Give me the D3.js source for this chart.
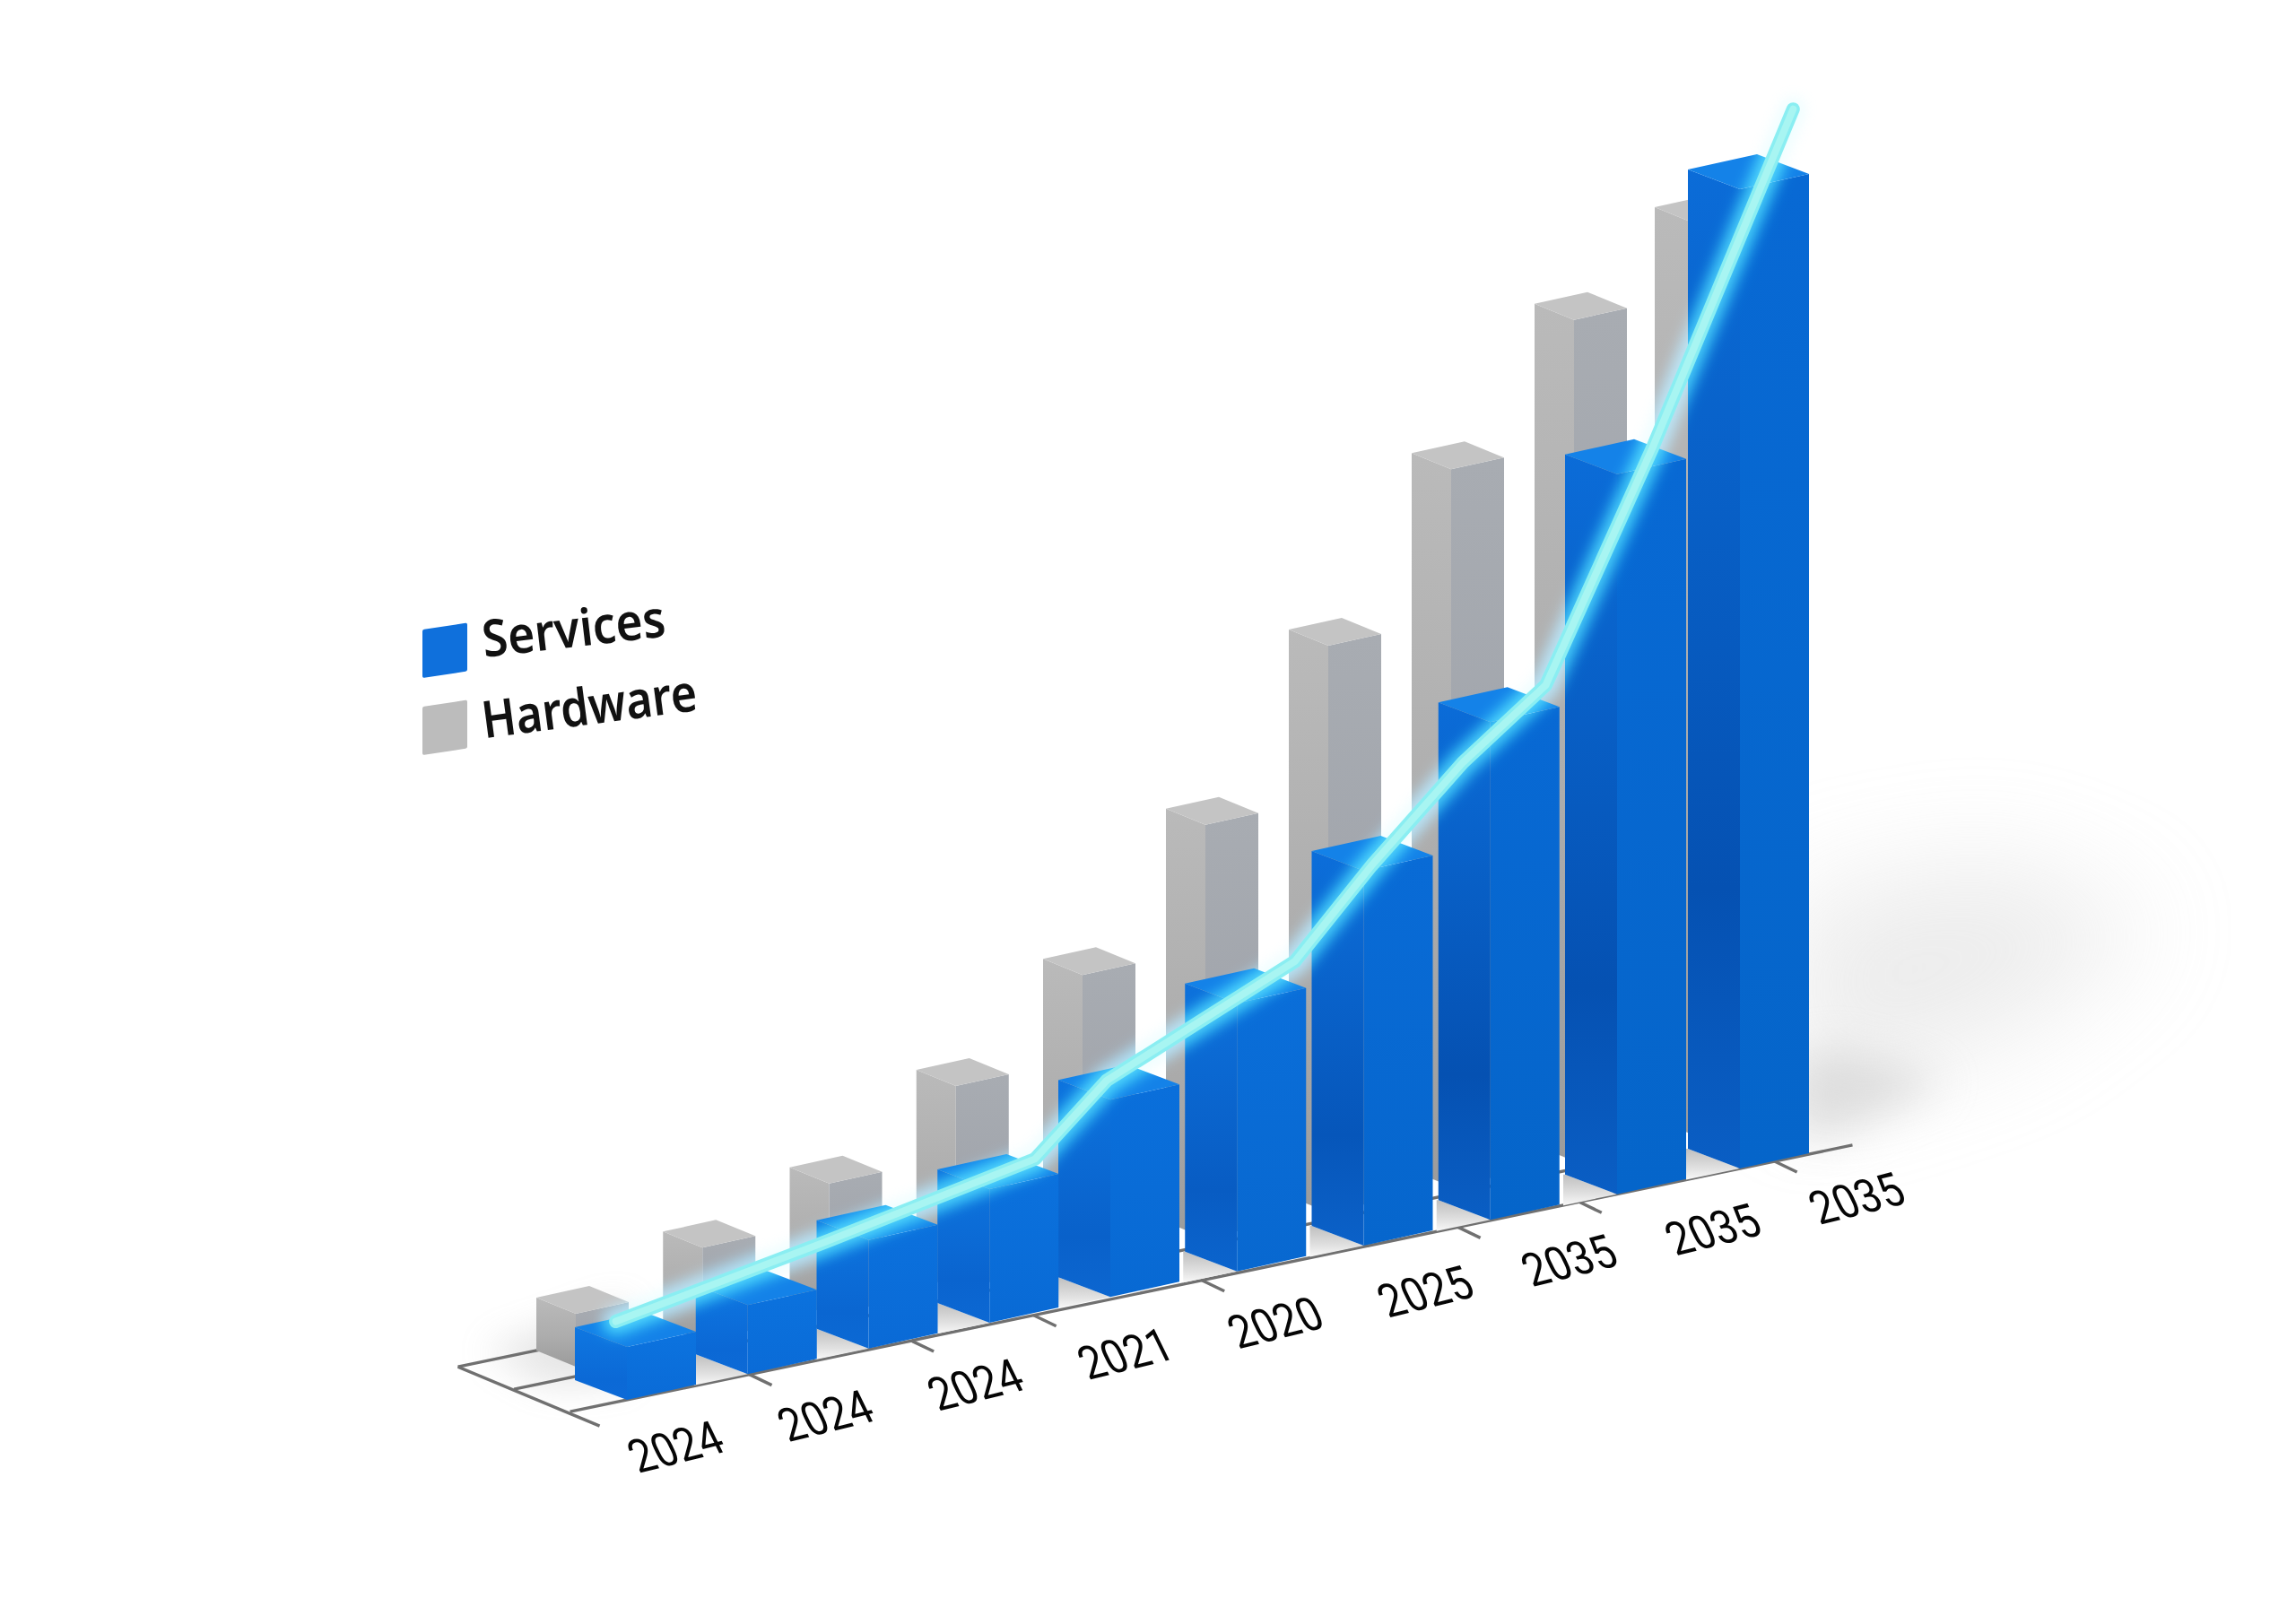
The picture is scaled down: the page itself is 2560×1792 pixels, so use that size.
<!DOCTYPE html>
<html><head><meta charset="utf-8">
<script src="https://cdn.jsdelivr.net/npm/d3@7"></script>
<style>html,body{margin:0;padding:0;background:#fff}svg{display:block}</style>
</head><body><svg id="c" width="2560" height="1792" viewBox="0 0 2560 1792"></svg>
<script>
// Data (in chart units)
const categories = [0,1,2,3,4,5,6,7,8,9];
const services = [5.9,7.7,12.1,14.9,22,29.9,41.8,55.5,80.3,109.2];
const hardware = [5.9,10.4,14.7,22.7,32.2,46.1,63.2,80.0,93.8,101.7];
const lineAt = [-0.09,1.60,3.30,3.88,5.40,6.02,6.76,7.43,8.29,9.43];
const lineValues = [9.0,13.0,17.4,24.5,33.4,42.3,51.7,58.4,82.3,116.9];
const tickLabels = ["2024","2024","2024","2021","2020","2025","2035","2035","2035"];
const tickAt = [0.99,2.30,3.29,4.65,6.72,7.70,9.28];
const legendNames = ["Services","Hardware"];
const gridDepth = [0,0.5,1];

const svg = d3.select("#c");
svg.append("rect").attr("width",2560).attr("height",1792).attr("fill","#fff");
const defs = svg.append("defs");

// Scales
const h = d3.scaleLinear([0,120],[0,1200]);
const axisX = d3.scaleLinear([0,9],[699,1940]);
const axisY = d3.scaleLinear([0,9],[1561,1303]);
const barX = d3.scaleLinear([0,4,8,9],[699,1238,1803,1940]);
const grayX = d3.scaleLinear([0,4,8,9],[642,1207,1755,1889]);
const grayY = d3.scaleLinear([0,9],[1524,1266]);
const labelX = d3.scaleLinear([0,5,8],[753,1589,2070]);
const labelY = d3.scaleLinear([0,8],[1613,1336]);
const blue = {W:[77,-17],D:[-58,-22]};
const gray = {W:[59,-13],D:[-44,-18]};
const poly = pts => pts.map(p=>p.join(",")).join(" ");

function grad(id,x1,y1,x2,y2,stops){
  const g=defs.append("linearGradient").attr("id",id).attr("x1",x1).attr("y1",y1).attr("x2",x2).attr("y2",y2);
  stops.forEach(s=>g.append("stop").attr("offset",s[0]).attr("stop-color",s[1]).attr("stop-opacity",s[2]===undefined?1:s[2]));
}
function blur(id,sd){
  defs.append("filter").attr("id",id).attr("x","-60%").attr("y","-60%").attr("width","220%").attr("height","220%")
    .attr("color-interpolation-filters","sRGB")
    .append("feGaussianBlur").attr("stdDeviation",sd);
}
blur("b60",60); blur("b30",24); blur("b8",8); blur("b20",20);
grad("grayL","0","0","0","1",[[0,"#bababa"],[0.55,"#adadad"],[1,"#9c9c9c"]]);
grad("grayR","0","0","0","1",[[0,"#a8acb2"],[0.6,"#a0a4ab"],[1,"#92969e"]]);
grad("floor","0","0","0","1",[[0,"#bfbfbf"],[0.6,"#dfdfdf"],[1,"#f8f8f8"]]);

// Ground shadows
svg.append("polygon").attr("points",poly([[2000,1230],[2250,1150],[2400,1030],[2230,960],[2000,1000]]))
  .attr("fill","#d0d0d0").attr("filter","url(#b60)").attr("opacity",0.4);
svg.append("polygon").attr("points",poly([[2000,1275],[2060,1262],[2170,1205],[2050,1170],[2000,1180]]))
  .attr("fill","#c4c4c4").attr("filter","url(#b30)").attr("opacity",0.5);
const clipGround = defs.append("clipPath").attr("id","aboveAxis");
clipGround.append("polygon").attr("points",poly([[0,0],[1000,0],[1000,1520],[636,1590],[0,1720]]));
svg.append("g").attr("clip-path","url(#aboveAxis)")
  .append("polygon").attr("points",poly([[540,1505],[700,1450],[700,1540],[610,1545]]))
  .attr("fill","#9a9a9a").attr("opacity",0.25).attr("filter","url(#b20)");

// Grid and axis
const grid = svg.append("g").attr("stroke","#707070").attr("stroke-width",3.4).attr("fill","none");
const depth = f => [-125*f,-50*f];
gridDepth.forEach(f=>{
  const d=depth(f);
  grid.append("line").attr("x1",axisX(-0.46)+d[0]).attr("y1",axisY(-0.46)+d[1])
    .attr("x2",f===0?axisX(9.91):axisX(8.6)+d[0]).attr("y2",f===0?axisY(9.91):axisY(8.6)+d[1]);
});
grid.append("line").attr("x1",axisX(-0.46)+depth(1)[0]).attr("y1",axisY(-0.46)+depth(1)[1])
  .attr("x2",axisX(-0.46)+33).attr("y2",axisY(-0.46)+16);
grid.selectAll("line.tick").data(tickAt).join("line").attr("class","tick")
  .attr("x1",d=>axisX(d)).attr("y1",d=>axisY(d)).attr("x2",d=>axisX(d)+25).attr("y2",d=>axisY(d)+12);

// Floor shading in the gaps
svg.append("g").selectAll("polygon").data(categories.slice(1)).join("polygon")
  .attr("points",i=>{const F=[barX(i),axisY(i)],A=[F[0]+blue.D[0],F[1]+blue.D[1]];
    return poly([F,A,[A[0]-2,A[1]],[A[0]-2,axisY(i)+(A[0]-2-F[0])*(-0.208)]]);})
  .attr("fill","url(#floor)");

function drawBars(vals,cfg,xs,ys,faces){
  const g=svg.append("g");
  categories.slice().reverse().forEach(i=>{
    const H=h(vals[i]),F=[xs(i),ys(i)],W=cfg.W,D=cfg.D;
    const at=(a,b,z)=>[F[0]+a*W[0]+b*D[0],F[1]+a*W[1]+b*D[1]-z];
    const f=faces(i,H);
    g.append("polygon").attr("points",poly([at(0,1,0),at(0,0,0),at(0,0,H),at(0,1,H)])).attr("fill",f.left);
    g.append("polygon").attr("points",poly([at(0,0,0),at(1,0,0),at(1,0,H),at(0,0,H)])).attr("fill",f.right);
    g.append("polygon").attr("points",poly([at(0,0,H),at(1,0,H),at(1,1,H),at(0,1,H)])).attr("fill",f.top);
  });
}
drawBars(hardware,gray,grayX,grayY,()=>({left:"url(#grayL)",right:"url(#grayR)",top:"#c4c4c4"}));
drawBars(services,blue,barX,axisY,(i,H)=>{
  const k=Math.min(1,H/520);
  const dark=d3.interpolateRgb("#0c6cdb","#0551b2")(k);
  grad("bl"+i,"0","0","0","1",[[0,d3.interpolateRgb("#0f78e2","#0b6cd8")(k)],[0.72,dark],[1,d3.interpolateRgb("#0d6cd9","#0a5ec4")(k)]]);
  grad("br"+i,"0","0","0","1",[[0,d3.interpolateRgb("#0c74e0","#0869d4")(k)],[1,d3.interpolateRgb("#0b6cd9","#0565ca")(k)]]);
  return {left:"url(#bl"+i+")",right:"url(#br"+i+")",top:"#1482e8"};
});

// Glowing line
const linePts = lineAt.map((t,i)=>[axisX(t),axisY(t)-h(lineValues[i])]);
const path = d3.line()(linePts);
const ln = svg.append("g").attr("fill","none").attr("stroke-linecap","round").attr("stroke-linejoin","round");
ln.append("path").attr("d",path).attr("stroke","#b8f6ff").attr("stroke-width",24).attr("opacity",0.3).attr("filter","url(#b8)");
ln.append("path").attr("d",path).attr("stroke","#1aa8ff").attr("stroke-width",30).attr("opacity",0.85).attr("filter","url(#b8)").style("mix-blend-mode","screen");
ln.append("path").attr("d",path).attr("stroke","#8aeef2").attr("stroke-width",15);
ln.append("path").attr("d",path).attr("stroke","#b2f7f1").attr("stroke-width",8).attr("opacity",0.75);

// X labels
svg.append("g").selectAll("text").data(tickLabels).join("text").text(d=>d)
  .attr("transform",(d,i)=>`translate(${labelX(i)},${labelY(i)}) rotate(-14) skewX(12) scale(0.86,1)`)
  .attr("text-anchor","middle").attr("dy","0.36em")
  .attr("font-family","Roboto, sans-serif").attr("font-size",53).attr("font-weight",400).attr("fill","#050505");

// Legend
const legend = svg.append("g");
const legendColor = d3.scaleOrdinal(legendNames,["#0f70dc","#bcbcbc"]);
const legendRow = d3.scalePoint(legendNames,[0,86]);
legendNames.forEach(n=>{
  const y=legendRow(n);
  legend.append("rect").attr("width",50).attr("height",54).attr("rx",2)
    .attr("transform",`matrix(1,-0.15,0,1,471,${702+y})`).attr("fill",legendColor(n));
  legend.append("text").text(n)
    .attr("transform",`translate(540,${733+y*1.05}) rotate(${n==="Services"?-6.6:-7.5}) scale(${n==="Services"?0.955:0.932},1.06)`)
    .attr("font-family","'Noto Sans', sans-serif").attr("font-weight",600).attr("font-size",54).attr("fill","#111");
});
</script></body></html>
